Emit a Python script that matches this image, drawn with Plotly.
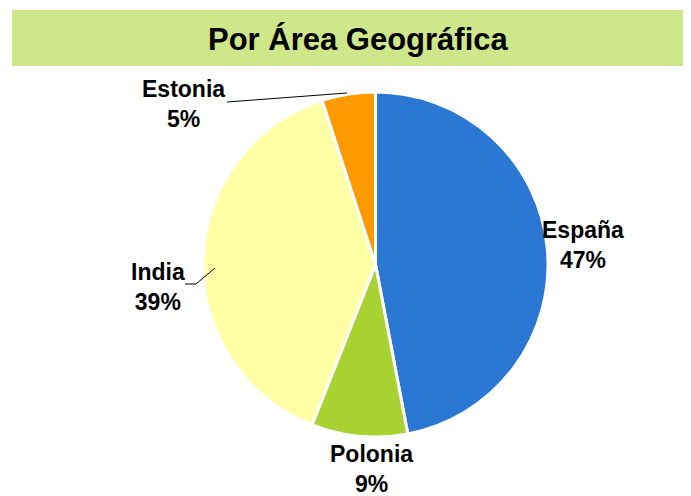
import plotly.graph_objects as go

# the page body adds an 8px margin, so the figure is drawn 8px in from the window edge
OFF = 8
W, H = 691 - OFF, 496 - OFF

paises = ["España", "Polonia", "India", "Estonia"]
valores = [47, 9, 39, 5]
colores = ["#2A78D4", "#A8D232", "#FFFFA6", "#FF9900"]

titulo = "Por Área Geográfica"
FONT = "Liberation Sans, Arial, sans-serif"


def px(x, y):
    # window pixel -> paper coordinates
    return (x - OFF) / W, 1 - (y - OFF) / H


total = sum(valores)
pct = [round(100 * v / total) for v in valores]

fig = go.Figure()
x0, y1 = px(203, 92)
x1, y0 = px(548, 437)
fig.add_trace(go.Pie(
    labels=paises, values=valores, sort=False, direction="clockwise", rotation=0,
    marker=dict(colors=colores, line=dict(color="white", width=3)),
    textinfo="none", hoverinfo="label+percent", showlegend=False,
    domain=dict(x=[x0, x1], y=[y0, y1]),
))

# title banner
bx0, by1 = px(12, 10)
by0 = px(0, 66)[1]
fig.add_shape(type="rect", xref="paper", yref="paper",
              x0=bx0, x1=1, y0=by0, y1=by1,
              fillcolor="#CDE78A", line=dict(width=0), layer="below")

tx, ty = px(358, 40)
fig.add_annotation(x=tx, y=ty, xref="paper", yref="paper", text=f"<b>{titulo}</b>",
                   xanchor="center", yanchor="middle", showarrow=False,
                   font=dict(family=FONT, size=31, color="black"))

# label positions (pixels) for each slice
lab_pos = {"España": (583, 245), "Polonia": (371, 469), "India": (158, 287), "Estonia": (183, 104)}
for name, p in zip(paises, pct):
    x, y = px(*lab_pos[name])
    fig.add_annotation(x=x, y=y, xref="paper", yref="paper", text=f"<b>{name}<br>{p}%</b>",
                       xanchor="center", yanchor="middle", showarrow=False,
                       font=dict(family=FONT, size=23, color="black"))


# leader lines
def leader(points):
    path = "M " + " L ".join("{},{}".format(*px(x, y)) for x, y in points)
    fig.add_shape(type="path", xref="paper", yref="paper", path=path,
                  line=dict(color="black", width=1))


leader([(227, 102), (347, 93)])
leader([(185, 284), (196, 284), (215, 268)])

fig.update_layout(width=W, height=H, margin=dict(l=0, r=0, t=0, b=0),
                  paper_bgcolor="white", plot_bgcolor="white")
fig.write_html("out.html")
